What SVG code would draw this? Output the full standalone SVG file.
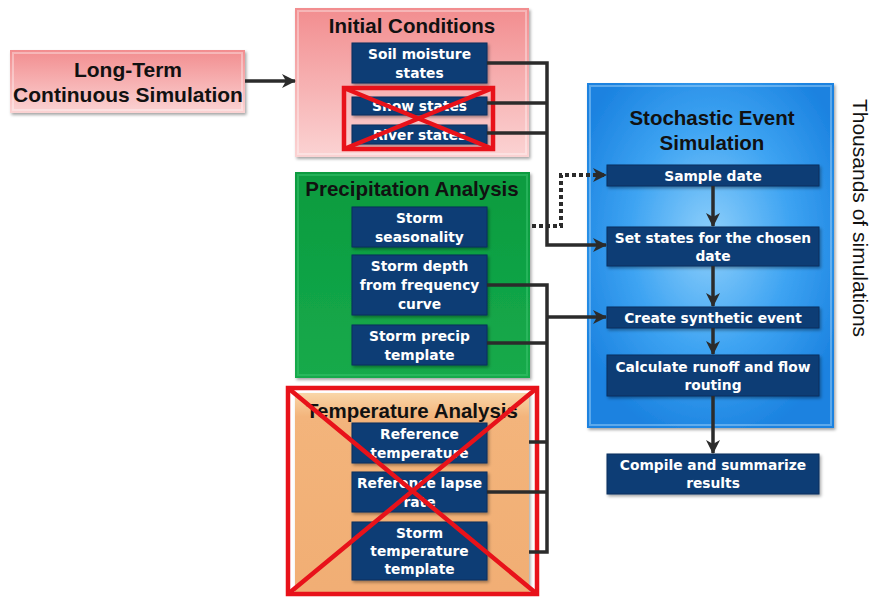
<svg xmlns="http://www.w3.org/2000/svg" width="871" height="597" viewBox="0 0 871 597">
  <defs>
    <style>
      .title { font-family: "Liberation Sans", Arial, sans-serif; font-weight: bold; font-size: 20.5px; fill: #111; text-anchor: middle; }
      .step { fill: #0e3d74; stroke: #0a2f5c; stroke-width: 1; filter: url(#drop); }
      .steptxt { font-family: "DejaVu Sans", Verdana, sans-serif; font-weight: bold; font-size: 13.8px; fill: #fff; text-anchor: middle; }
      .wire { fill: none; stroke: #2b2b2b; stroke-width: 3.5; }
      .dots { fill: none; stroke: #2b2b2b; stroke-width: 4; stroke-dasharray: 4 3; }
      .cross { fill: none; stroke: #e8121a; stroke-width: 4.5; }
      .side { font-family: "Liberation Sans", Arial, sans-serif; font-size: 21px; fill: #111; text-anchor: middle; }
    </style>
    <linearGradient id="pink" x1="0" y1="0" x2="0" y2="1">
      <stop offset="0" stop-color="#f28d8f"/>
      <stop offset="1" stop-color="#fbd3d3"/>
    </linearGradient>
    <linearGradient id="green" x1="0" y1="0" x2="0" y2="1">
      <stop offset="0" stop-color="#0a9b3f"/>
      <stop offset="1" stop-color="#16aa4b"/>
    </linearGradient>
    <linearGradient id="orange" x1="0" y1="0" x2="0" y2="1">
      <stop offset="0" stop-color="#f9d6a8"/>
      <stop offset="0.12" stop-color="#f3b47b"/>
      <stop offset="1" stop-color="#f1ae74"/>
    </linearGradient>
    <radialGradient id="blue" cx="0.5" cy="0.45" r="0.6">
      <stop offset="0" stop-color="#8fd0fb"/>
      <stop offset="0.55" stop-color="#3da3f2"/>
      <stop offset="1" stop-color="#1b82e0"/>
    </radialGradient>
    <filter id="drop" x="-10%" y="-10%" width="130%" height="140%">
      <feDropShadow dx="1.5" dy="2" stdDeviation="1.5" flood-color="#000" flood-opacity="0.35"/>
    </filter>
    <marker id="headBig" viewBox="0 0 14 14" refX="13" refY="7" markerWidth="14" markerHeight="14" markerUnits="userSpaceOnUse" orient="auto">
      <path d="M0,0 L14,7 L0,14 L4,7 z" fill="#2b2b2b"/>
    </marker>
  </defs>

  <rect width="871" height="597" fill="#fff"/>

  <!-- source box -->
  <g id="long-term">
    <rect x="10" y="50" width="235" height="63" fill="url(#pink)" filter="url(#drop)"/>
    <rect x="13" y="53" width="229" height="57" fill="none" stroke="#fff" stroke-opacity="0.35" stroke-width="2"/>
    <text class="title" x="128" y="77" style="font-size:21px">Long-Term</text>
    <text class="title" x="128" y="102" style="font-size:21px">Continuous Simulation</text>
  </g>

  <!-- initial conditions panel -->
  <g id="initial-conditions">
    <rect x="295" y="8" width="234" height="149" fill="url(#pink)" filter="url(#drop)"/>
    <rect x="298" y="11" width="228" height="143" fill="none" stroke="#fff" stroke-opacity="0.35" stroke-width="2"/>
    <text class="title" x="412" y="33">Initial Conditions</text>
    <g id="soil-moisture">
      <rect class="step" x="352" y="43" width="135" height="40"/>
      <text class="steptxt" x="419.5" y="59">Soil moisture</text>
      <text class="steptxt" x="419.5" y="78">states</text>
    </g>
    <g id="snow-states">
      <rect class="step" x="352" y="97" width="135" height="18"/>
      <text class="steptxt" x="419.5" y="111">Snow states</text>
    </g>
    <g id="river-states">
      <rect class="step" x="352" y="125" width="135" height="19"/>
      <text class="steptxt" x="419.5" y="140">River states</text>
    </g>
    <rect class="cross" x="344" y="88" width="149" height="61"/>
    <path class="cross" d="M344,88 L493,149 M344,149 L493,88"/>
  </g>

  <!-- precipitation panel -->
  <g id="precipitation-analysis">
    <rect x="295" y="172" width="235" height="206" fill="url(#green)" filter="url(#drop)"/>
    <rect x="298" y="175" width="229" height="200" fill="none" stroke="#3cc66f" stroke-opacity="0.5" stroke-width="2"/>
    <text class="title" x="412" y="196">Precipitation Analysis</text>
    <g id="storm-seasonality">
      <rect class="step" x="352" y="207" width="135" height="40"/>
      <text class="steptxt" x="419.5" y="223">Storm</text>
      <text class="steptxt" x="419.5" y="242">seasonality</text>
    </g>
    <g id="storm-depth">
      <rect class="step" x="352" y="255" width="135" height="60"/>
      <text class="steptxt" x="419.5" y="271">Storm depth</text>
      <text class="steptxt" x="419.5" y="290">from frequency</text>
      <text class="steptxt" x="419.5" y="309">curve</text>
    </g>
    <g id="storm-precip-template">
      <rect class="step" x="352" y="325" width="135" height="40"/>
      <text class="steptxt" x="419.5" y="341">Storm precip</text>
      <text class="steptxt" x="419.5" y="360">template</text>
    </g>
  </g>

  <!-- temperature panel -->
  <g id="temperature-analysis">
    <rect x="295" y="393" width="234" height="199" fill="url(#orange)" filter="url(#drop)"/>
    <text class="title" x="412" y="418">Temperature Analysis</text>
    <g id="reference-temperature">
      <rect class="step" x="352" y="423" width="135" height="40"/>
      <text class="steptxt" x="419.5" y="439">Reference</text>
      <text class="steptxt" x="419.5" y="458">temperature</text>
    </g>
    <g id="reference-lapse-rate">
      <rect class="step" x="352" y="472" width="135" height="40"/>
      <text class="steptxt" x="419.5" y="488">Reference lapse</text>
      <text class="steptxt" x="419.5" y="507">rate</text>
    </g>
    <g id="storm-temperature-template">
      <rect class="step" x="352" y="522" width="135" height="58"/>
      <text class="steptxt" x="419.5" y="538">Storm</text>
      <text class="steptxt" x="419.5" y="556">temperature</text>
      <text class="steptxt" x="419.5" y="574">template</text>
    </g>
    <rect class="cross" x="288" y="388" width="249" height="206"/>
    <path class="cross" d="M288,388 L537,594 M288,594 L537,388"/>
  </g>

  <!-- stochastic event panel -->
  <g id="stochastic-event-simulation">
    <rect x="587" y="83" width="247" height="345" fill="url(#blue)" filter="url(#drop)"/>
    <rect x="590" y="86" width="241" height="339" fill="none" stroke="#bfe4ff" stroke-opacity="0.4" stroke-width="2"/>
    <text class="title" x="712" y="125">Stochastic Event</text>
    <text class="title" x="712" y="150">Simulation</text>
    <g id="sample-date">
      <rect class="step" x="607" y="165" width="212" height="21"/>
      <text class="steptxt" x="713" y="181">Sample date</text>
    </g>
    <g id="set-states">
      <rect class="step" x="607" y="227" width="212" height="39"/>
      <text class="steptxt" x="713" y="243">Set states for the chosen</text>
      <text class="steptxt" x="713" y="261">date</text>
    </g>
    <g id="create-synthetic-event">
      <rect class="step" x="607" y="307" width="212" height="21"/>
      <text class="steptxt" x="713" y="323">Create synthetic event</text>
    </g>
    <g id="calculate-runoff">
      <rect class="step" x="607" y="355" width="212" height="41"/>
      <text class="steptxt" x="713" y="372">Calculate runoff and flow</text>
      <text class="steptxt" x="713" y="390">routing</text>
    </g>
  </g>

  <g id="compile-results">
    <rect class="step" x="607" y="454" width="212" height="40"/>
    <text class="steptxt" x="713" y="470">Compile and summarize</text>
    <text class="steptxt" x="713" y="488">results</text>
  </g>

  <text class="side" transform="translate(853,218) rotate(90)">Thousands of simulations</text>

  <!-- connectors -->
  <g id="connectors">
    <path class="wire" d="M245,81 L295,81" marker-end="url(#headBig)"/>
    <!-- initial states feed the state setter -->
    <path class="wire" d="M487,63 L547,63 L547,245 L606,245" marker-end="url(#headBig)"/>
    <path class="wire" d="M487,103 L547,103"/>
    <path class="wire" d="M487,133 L547,133"/>
    <!-- seasonality feeds sample date -->
    <path class="dots" d="M532,226 L561,226 L561,175 L606,175" marker-end="url(#headBig)"/>
    <!-- storm and temperature inputs feed event creation -->
    <path class="wire" d="M487,285 L547,285 L547,552 L529,552"/>
    <path class="wire" d="M547,317 L606,317" marker-end="url(#headBig)"/>
    <path class="wire" d="M487,343 L547,343"/>
    <path class="wire" d="M529,442 L547,442"/>
    <path class="wire" d="M487,492 L547,492"/>
    <!-- event chain -->
    <path class="wire" d="M713,186 L713,226" marker-end="url(#headBig)"/>
    <path class="wire" d="M713,266 L713,306" marker-end="url(#headBig)"/>
    <path class="wire" d="M713,328 L713,354" marker-end="url(#headBig)"/>
    <path class="wire" d="M713,396 L713,453" marker-end="url(#headBig)"/>
  </g>
</svg>
